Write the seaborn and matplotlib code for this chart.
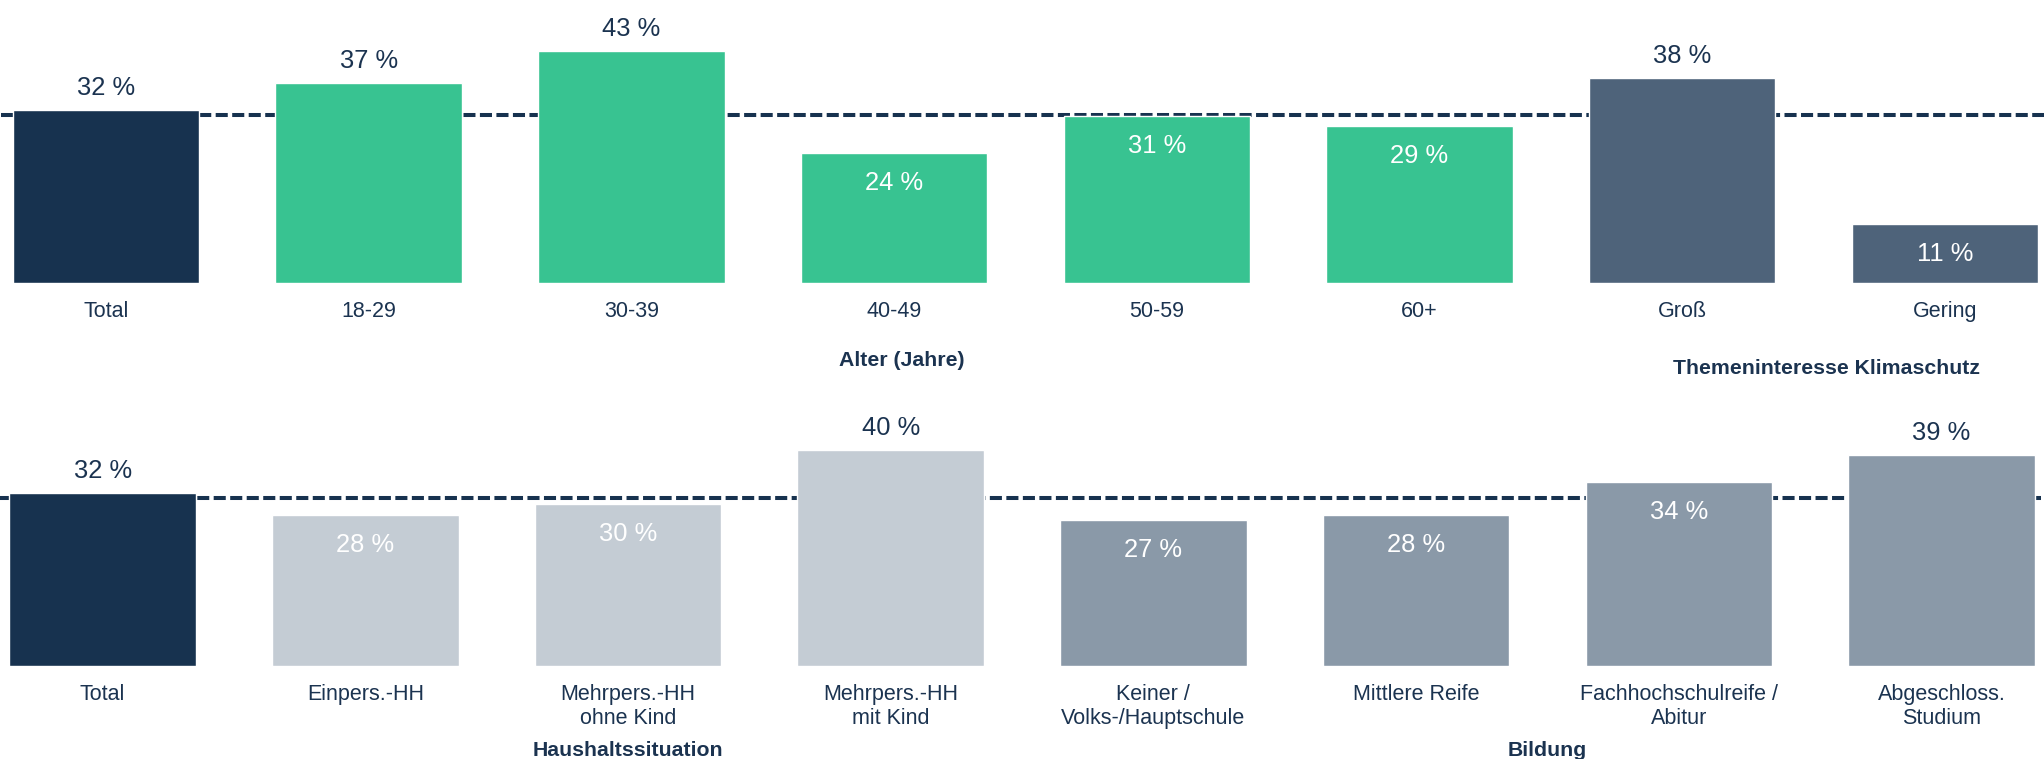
import matplotlib
matplotlib.use("Agg")
import matplotlib.pyplot as plt
import seaborn as sns

# --- data -------------------------------------------------------------
top_cats = ["Total", "18-29", "30-39", "40-49", "50-59", "60+", "Groß", "Gering"]
top_vals = [32, 37, 43, 24, 31, 29, 38, 11]
top_groups = [("Alter (Jahre)", 3.03, 77), ("Themeninteresse Klimaschutz", 6.55, 85)]

bot_cats = ["Total", "Einpers.-HH", "Mehrpers.-HH\nohne Kind", "Mehrpers.-HH\nmit Kind",
            "Keiner /\nVolks-/Hauptschule", "Mittlere Reife",
            "Fachhochschulreife /\nAbitur", "Abgeschloss.\nStudium"]
bot_vals = [32, 28, 30, 40, 27, 28, 34, 39]
bot_groups = [("Haushaltssituation", 2.0, 84), ("Bildung", 5.5, 84)]

ref_line = 31.2

NAVY = "#17324f"
GREEN = "#38c391"
SLATE = "#4e637a"
LIGHT = "#c4ccd4"
MID = "#8a99a8"
TEXT = "#1b3350"

top_colors = [NAVY] + [GREEN] * 5 + [SLATE] * 2
bot_colors = [NAVY] + [LIGHT] * 3 + [MID] * 4

sns.set_theme(style="white")
plt.rcParams["font.family"] = ["Liberation Sans", "DejaVu Sans"]

PX = 0.72  # points per pixel at dpi 100


def draw_panel(ax, cats, vals, colors, groups):
    sns.barplot(x=cats, y=vals, hue=cats, palette=colors, width=0.71,
                saturation=1, legend=False, ax=ax, zorder=2)
    ax.axhline(ref_line, color=NAVY, lw=2.9, ls=(0, (3, 1.1)), zorder=1)
    ax.set_ylim(0, 50)
    ax.set_xlim(-0.4, 7.38)
    ax.set_yticks([])
    ax.set_ylabel("")
    sns.despine(ax=ax, left=True, bottom=True)
    ax.tick_params(axis="x", length=0, pad=13, labelsize=15.5, colors=TEXT)
    for i, v in enumerate(vals):
        outside = i == 0 or v > 35
        ax.annotate(f"{v} %", xy=(i, v), xytext=(0, 15 * PX if outside else -37 * PX),
                    textcoords="offset points", ha="center", va="baseline",
                    fontsize=18.4, color=TEXT if outside else "white")
    for name, xc, off in groups:
        ax.annotate(name, xy=(xc, 0), xytext=(0, -off * PX), textcoords="offset points",
                    ha="center", va="center", fontsize=15.3, fontweight="bold",
                    color=TEXT, annotation_clip=False)


fig = plt.figure(figsize=(20.44, 7.59), dpi=100)
ax1 = fig.add_axes([0.92 / 2044, 0.6271, 2043.8 / 2044, 0.3557])
ax2 = fig.add_axes([-2.5 / 2044, 0.1225, 2043.8 / 2044, 0.3557])

draw_panel(ax1, top_cats, top_vals, top_colors, top_groups)
draw_panel(ax2, bot_cats, bot_vals, bot_colors, bot_groups)

fig.savefig("out.png", dpi=100, facecolor="white")
